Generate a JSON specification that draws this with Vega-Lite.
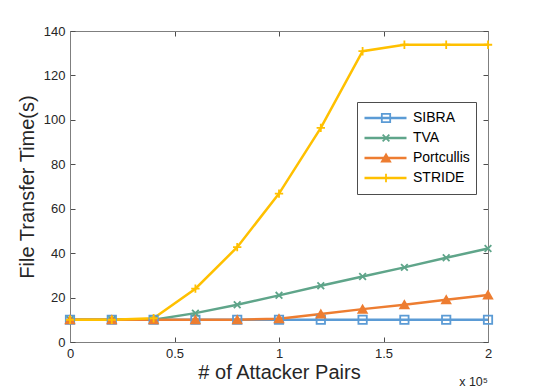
{
  "$schema": "https://vega.github.io/schema/vega-lite/v6.json",
  "autosize": {"type": "none"},
  "width": 418,
  "height": 311,
  "padding": {"left": 70, "top": 31, "right": 52, "bottom": 48},
  "background": "white",
  "config": {
    "font": "Liberation Sans",
    "view": {"stroke": "#7f7f7f", "strokeWidth": 1},
    "axis": {"grid": false, "domainColor": "#7f7f7f", "tickColor": "#4d4d4d", "labelColor": "#262626", "titleColor": "#262626", "labelFont": "Liberation Sans", "titleFont": "Liberation Sans", "titleFontWeight": "normal", "labelFontSize": 13, "titleFontSize": 20}
  },
  "title": {"text": "x 10⁵", "orient": "bottom", "anchor": "end", "frame": "group", "fontSize": 12.5, "fontWeight": "normal", "font": "Liberation Sans", "color": "#262626", "offset": -6},
  "data": {"values": [
    {"x": 0, "y": 10, "series": "SIBRA"}, {"x": 0.2, "y": 10, "series": "SIBRA"}, {"x": 0.4, "y": 10, "series": "SIBRA"}, {"x": 0.6, "y": 10, "series": "SIBRA"}, {"x": 0.8, "y": 10, "series": "SIBRA"}, {"x": 1.0, "y": 10, "series": "SIBRA"}, {"x": 1.2, "y": 10, "series": "SIBRA"}, {"x": 1.4, "y": 10, "series": "SIBRA"}, {"x": 1.6, "y": 10, "series": "SIBRA"}, {"x": 1.8, "y": 10, "series": "SIBRA"}, {"x": 2.0, "y": 10, "series": "SIBRA"},
    {"x": 0, "y": 10, "series": "TVA"}, {"x": 0.2, "y": 10, "series": "TVA"}, {"x": 0.4, "y": 10, "series": "TVA"}, {"x": 0.6, "y": 13, "series": "TVA"}, {"x": 0.8, "y": 16.8, "series": "TVA"}, {"x": 1.0, "y": 21, "series": "TVA"}, {"x": 1.2, "y": 25.3, "series": "TVA"}, {"x": 1.4, "y": 29.5, "series": "TVA"}, {"x": 1.6, "y": 33.6, "series": "TVA"}, {"x": 1.8, "y": 37.9, "series": "TVA"}, {"x": 2.0, "y": 42.1, "series": "TVA"},
    {"x": 0, "y": 10, "series": "Portcullis"}, {"x": 0.2, "y": 10, "series": "Portcullis"}, {"x": 0.4, "y": 10, "series": "Portcullis"}, {"x": 0.6, "y": 10, "series": "Portcullis"}, {"x": 0.8, "y": 10, "series": "Portcullis"}, {"x": 1.0, "y": 10.5, "series": "Portcullis"}, {"x": 1.2, "y": 12.6, "series": "Portcullis"}, {"x": 1.4, "y": 14.8, "series": "Portcullis"}, {"x": 1.6, "y": 16.8, "series": "Portcullis"}, {"x": 1.8, "y": 19, "series": "Portcullis"}, {"x": 2.0, "y": 21.2, "series": "Portcullis"},
    {"x": 0, "y": 10, "series": "STRIDE"}, {"x": 0.2, "y": 10, "series": "STRIDE"}, {"x": 0.4, "y": 10.7, "series": "STRIDE"}, {"x": 0.6, "y": 24, "series": "STRIDE"}, {"x": 0.8, "y": 42.7, "series": "STRIDE"}, {"x": 1.0, "y": 66.8, "series": "STRIDE"}, {"x": 1.2, "y": 96.4, "series": "STRIDE"}, {"x": 1.4, "y": 130.9, "series": "STRIDE"}, {"x": 1.6, "y": 133.8, "series": "STRIDE"}, {"x": 1.8, "y": 133.8, "series": "STRIDE"}, {"x": 2.0, "y": 133.8, "series": "STRIDE"}
  ]},
  "layer": [
    {
      "mark": {"type": "line", "strokeWidth": 2.5},
      "encoding": {
        "x": {"field": "x", "type": "quantitative", "scale": {"domain": [0, 2], "nice": false, "zero": false},
              "axis": {"orient": "bottom", "values": [0, 0.5, 1, 1.5, 2], "format": "~g", "title": "# of Attacker Pairs", "tickSize": -5, "labelPadding": 10, "titlePadding": 2, "labelFlush": false}},
        "y": {"field": "y", "type": "quantitative", "scale": {"domain": [0, 140], "nice": false},
              "axis": {"orient": "left", "values": [0, 20, 40, 60, 80, 100, 120, 140], "title": "File Transfer Time(s)", "tickSize": -5, "labelPadding": 10, "titlePadding": 6, "labelFlush": false}},
        "color": {"field": "series", "type": "nominal", "sort": ["SIBRA", "TVA", "Portcullis", "STRIDE"],
                  "scale": {"range": ["#5B9BD5", "#5FA58A", "#ED7D31", "#FFC000"]},
                  "legend": {"orient": "none", "legendX": 287, "legendY": 71, "title": null, "symbolType": "stroke", "symbolSize": 1764, "symbolStrokeWidth": 2.5, "labelFontSize": 14, "labelFont": "Liberation Sans", "labelColor": "#000000", "labelOffset": 5, "clipHeight": 20, "rowPadding": 0, "padding": 6, "strokeColor": "#4d4d4d", "fillColor": "white", "zindex": 0}}
      }
    },
    {
      "mark": {"type": "point", "size": 70, "strokeWidth": 1.8, "opacity": 1},
      "encoding": {
        "x": {"field": "x", "type": "quantitative", "axis": {"orient": "top", "labels": false, "title": null, "tickSize": -5, "values": [0, 0.5, 1, 1.5, 2]}},
        "y": {"field": "y", "type": "quantitative", "axis": {"orient": "right", "labels": false, "title": null, "tickSize": -5, "values": [0, 20, 40, 60, 80, 100, 120, 140]}},
        "stroke": {"field": "series", "type": "nominal", "scale": {"domain": ["SIBRA", "TVA", "Portcullis", "STRIDE"], "range": ["#5B9BD5", "#5FA58A", "#ED7D31", "#FFC000"]},
                   "legend": {"orient": "none", "legendX": 287, "legendY": 71, "title": null, "symbolSize": 70, "symbolStrokeWidth": 1.8, "symbolOffset": 16, "labelFontSize": 14, "labelOpacity": 0, "labelOffset": 5, "clipHeight": 20, "rowPadding": 0, "padding": 6, "zindex": 1}},
        "fill": {"field": "series", "type": "nominal", "scale": {"domain": ["SIBRA", "TVA", "Portcullis", "STRIDE"], "range": ["transparent", "transparent", "#ED7D31", "transparent"]}},
        "shape": {"field": "series", "type": "nominal", "scale": {"domain": ["SIBRA", "TVA", "Portcullis", "STRIDE"], "range": ["square", "M-0.8,-0.8L0.8,0.8M-0.8,0.8L0.8,-0.8", "triangle-up", "M-1,0L1,0M0,-1L0,1"]}}
      }
    }
  ],
  "resolve": {"axis": {"x": "independent", "y": "independent"}}
}
